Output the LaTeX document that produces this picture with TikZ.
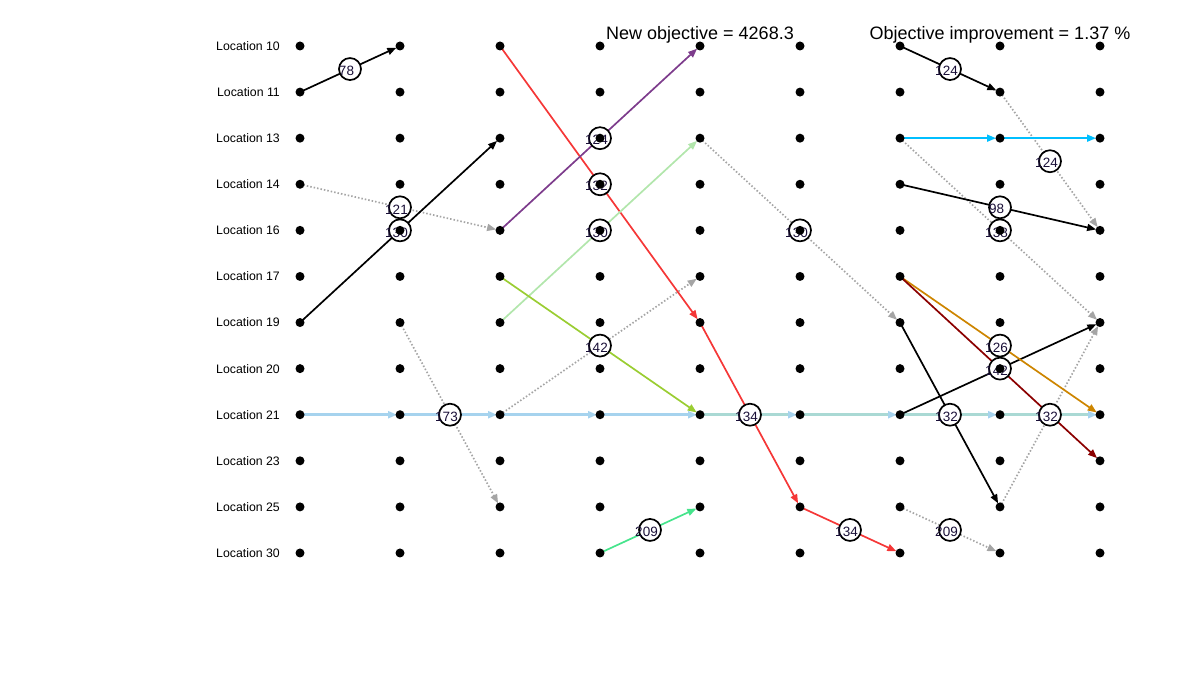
\documentclass[tikz,border=0pt]{standalone}
\usepackage{fontspec}
\setmainfont{Liberation Sans}
\usetikzlibrary{arrows.meta}
\pgfdeclarelayer{edges}
\pgfdeclarelayer{labs}
\pgfsetlayers{edges,labs,main}
\definecolor{cred}{RGB}{245,55,55}
\definecolor{cpurple}{RGB}{125,60,140}
\definecolor{clgreen}{RGB}{178,230,172}
\definecolor{cygreen}{RGB}{154,205,50}
\definecolor{csgreen}{RGB}{70,228,140}
\definecolor{cdsblue}{RGB}{0,191,255}
\definecolor{corange}{RGB}{205,133,0}
\definecolor{cdred}{RGB}{139,0,0}
\definecolor{clblue}{RGB}{166,211,238}
\definecolor{cteal}{RGB}{170,217,212}
\definecolor{cgray}{RGB}{165,165,165}
\definecolor{cnum}{RGB}{25,15,55}
\begin{document}
\begin{tikzpicture}[x=1pt,y=-1pt,
  dot/.style={circle,fill=black,inner sep=0pt,minimum size=9pt},
  loc/.style={anchor=east,inner sep=0pt,font=\fontsize{12.3}{14}\selectfont},
  ttl/.style={inner sep=0pt,font=\fontsize{18}{20}\selectfont},
  ed/.style={line width=1.7pt,shorten >=4pt,-{Triangle[length=9pt,width=7pt]}},
  gd/.style={ed,draw=cgray,dash pattern=on 1.5pt off 2pt},
  bl/.style={line width=2.6pt,draw=clblue,shorten >=3pt,-{Triangle[length=9pt,width=7pt,color=clblue]}},
  tl/.style={line width=2.6pt,draw=cteal,shorten >=3pt,-{Triangle[length=9pt,width=7pt,color=clblue]}},
  lab/.style={circle,draw=black,fill=white,line width=1.7pt,minimum size=22pt,inner sep=0pt,
    label={[font=\fontsize{13.5}{13.5}\selectfont,text=cnum,xshift=-3.5pt,yshift=-2pt,inner sep=0pt]center:#1}}
]
\useasboundingbox (0,0) rectangle (1200,700);

% grid dots
\foreach \i in {0,...,8} {
  \foreach \j in {0,...,11} {
    \node[dot] (c\i-\j) at ({300+100*\i},{46+46.09*\j}) {};
  }
}

% location labels
\foreach \j/\t in {0/10,1/11,2/13,3/14,4/16,5/17,6/19,7/20,8/21,9/23,10/25,11/30} {
  \node[loc] (L\j) at (280,{46+46.09*\j}) {Location \t};
}

% titles
\node[ttl] (t1) at (700,35) {New objective = 4268.3};
\node[ttl] (t2) at (1000,35) {Objective improvement = 1.37 \%};

\begin{pgfonlayer}{edges}
  % light blue route along Location 21
  \draw[bl] (c0-8.center) -- (c1-8.center);
  \draw[bl] (c1-8.center) -- (c2-8.center);
  \draw[bl] (c2-8.center) -- (c3-8.center);
  \draw[bl] (c3-8.center) -- (c4-8.center);
  \draw[tl] (c4-8.center) -- (c5-8.center);
  \draw[tl] (c5-8.center) -- (c6-8.center);
  \draw[tl] (c6-8.center) -- (c7-8.center);
  \draw[tl] (c7-8.center) -- (c8-8.center);
  % gray dotted
  \draw[gd] (c0-3.center) -- (c2-4.center);
  \draw[gd] (c1-6.center) -- (c2-10.center);
  \draw[gd] (c2-8.center) -- (c4-5.center);
  \draw[gd] (c4-2.center) -- (c6-6.center);
  \draw[gd] (c7-1.center) -- (c8-4.center);
  \draw[gd] (c6-2.center) -- (c8-6.center);
  \draw[gd] (c7-10.center) -- (c8-6.center);
  \draw[gd] (c6-10.center) -- (c7-11.center);
  % black
  \draw[ed] (c0-1.center) -- (c1-0.center);
  \draw[ed] (c0-6.center) -- (c2-2.center);
  \draw[ed] (c6-0.center) -- (c7-1.center);
  \draw[ed] (c6-3.center) -- (c8-4.center);
  \draw[ed] (c6-6.center) -- (c7-10.center);
  \draw[ed] (c6-8.center) -- (c8-6.center);
  % coloured
  \draw[ed,color=cred] (c2-0.center) -- (c4-6.center);
  \draw[ed,color=cred] (c4-6.center) -- (c5-10.center);
  \draw[ed,color=cred] (c5-10.center) -- (c6-11.center);
  \draw[ed,color=cpurple] (c2-4.center) -- (c4-0.center);
  \draw[ed,color=clgreen] (c2-6.center) -- (c4-2.center);
  \draw[ed,color=cygreen] (c2-5.center) -- (c4-8.center);
  \draw[ed,color=csgreen] (c3-11.center) -- (c4-10.center);
  \draw[ed,color=cdsblue] (c6-2.center) -- (c7-2.center);
  \draw[ed,color=cdsblue] (c7-2.center) -- (c8-2.center);
  \draw[ed,color=corange] (c6-5.center) -- (c8-8.center);
  \draw[ed,color=cdred] (c6-5.center) -- (c8-9.center);
\end{pgfonlayer}

\begin{pgfonlayer}{labs}
  \path (c0-1.center) -- node[lab=78]{} (c1-0.center);
  \path (c0-3.center) -- node[lab=121]{} (c2-4.center);
  \path (c0-6.center) -- node[lab=130]{} (c2-2.center);
  \path (c1-6.center) -- node[lab=173]{} (c2-10.center);
  \path (c2-4.center) -- node[lab=124]{} (c4-0.center);
  \path (c2-0.center) -- node[lab=132]{} (c4-6.center);
  \path (c2-6.center) -- node[lab=130]{} (c4-2.center);
  \path (c2-5.center) -- node[lab=142]{} (c4-8.center);
  \path (c3-11.center) -- node[lab=209]{} (c4-10.center);
  \path (c4-6.center) -- node[lab=134]{} (c5-10.center);
  \path (c4-2.center) -- node[lab=130]{} (c6-6.center);
  \path (c5-10.center) -- node[lab=134]{} (c6-11.center);
  \path (c6-0.center) -- node[lab=124]{} (c7-1.center);
  \path (c7-1.center) -- node[lab=124]{} (c8-4.center);
  \path (c6-3.center) -- node[lab=98]{} (c8-4.center);
  \path (c6-2.center) -- node[lab=138]{} (c8-6.center);
  \path (c6-5.center) -- node[lab=126]{} (c8-8.center);
  \path (c6-5.center) -- node[lab=142]{} (c8-9.center);
  \path (c6-6.center) -- node[lab=132]{} (c7-10.center);
  \path (c7-10.center) -- node[lab=132]{} (c8-6.center);
  \path (c6-10.center) -- node[lab=209]{} (c7-11.center);
\end{pgfonlayer}
\end{tikzpicture}
\end{document}
